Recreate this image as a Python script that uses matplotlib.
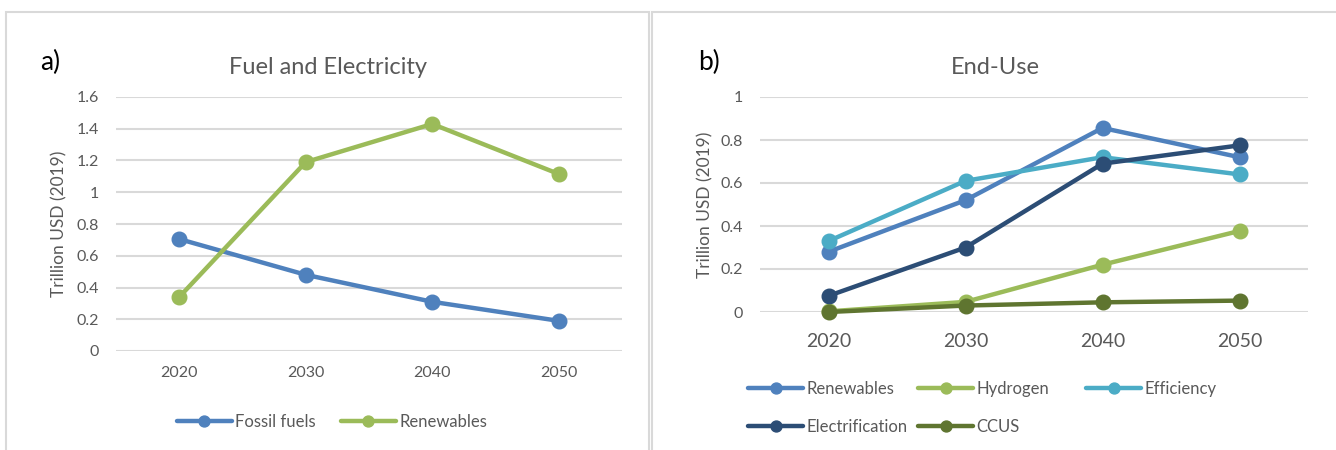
import numpy as np
import matplotlib
matplotlib.use("Agg")
from matplotlib import pyplot as plt
from matplotlib.patches import Rectangle
from matplotlib.ticker import FuncFormatter

plt.rcParams['font.family'] = ['Lato', 'DejaVu Sans']

# data
years = ['2020', '2030', '2040', '2050']

fossil_fuels = [0.705, 0.48, 0.31, 0.19]
renewables_fe = [0.34, 1.19, 1.43, 1.115]

renewables_eu = [0.28, 0.52, 0.856, 0.72]
hydrogen = [0.003, 0.047, 0.22, 0.377]
efficiency = [0.33, 0.61, 0.72, 0.64]
electrification = [0.075, 0.30, 0.69, 0.775]
ccus = [0.0, 0.03, 0.045, 0.053]

# colors (excel palette)
cBlue = '#4F81BD'
cGreen = '#9BBB59'
cCyan = '#4BACC6'
cNavy = '#2C4D75'
cOlive = '#5F7530'
txt = '#595959'
grid = '#D9D9D9'

W, H = 1336., 450.
fig = plt.figure(figsize=(13.36, 4.5), dpi=100)

# panel frames
fig.patches.append(Rectangle((6/W, -0.1), (649-6)/W, 1.1-12/H, transform=fig.transFigure,
                             fill=False, edgecolor=grid, lw=1.5))
fig.patches.append(Rectangle((652/W, -0.1), 0.6, 1.1-12/H, transform=fig.transFigure,
                             fill=False, edgecolor=grid, lw=1.5))

fmt = FuncFormatter(lambda v, p: ('%g' % round(v, 2)))


def style(ax, top, step, xsize, xpad):
    x = np.arange(len(years))
    ax.set_xlim(-0.5, len(years) - 0.5)
    ax.set_ylim(0, top)
    ax.set_yticks(np.arange(0, top + step / 2, step))
    ax.yaxis.set_major_formatter(fmt)
    ax.set_xticks(x)
    ax.set_xticklabels(years)
    for s in ax.spines.values():
        s.set_visible(False)
    ax.grid(axis='y', color=grid, lw=1.5)
    ax.set_axisbelow(True)
    ax.tick_params(axis='both', length=0, colors=txt, labelsize=11.5)
    ax.tick_params(axis='x', pad=xpad, labelsize=xsize)
    ax.tick_params(axis='y', pad=12)
    ax.set_ylabel('Trillion USD (2019)', color=txt, fontsize=12.5)


def line(ax, vals, color, label):
    x = np.arange(len(vals))
    ax.plot(x, vals, color=color, lw=3.2, marker='o', markersize=10.5,
            label=label, solid_capstyle='round', clip_on=False)


def leg(handles, labels, x, y):
    # one legend column, placed where excel puts it
    return fig.legend(handles, labels, loc='upper left', bbox_to_anchor=(x/W, 1-y/H),
                      bbox_transform=fig.transFigure, frameon=False, fontsize=12,
                      handlelength=3.3, handletextpad=0.2, labelspacing=1.3,
                      labelcolor=txt, markerscale=0.75, borderpad=0, borderaxespad=0)


# a) Fuel and Electricity
axA = fig.add_axes([116/W, 1-351/H, (622-116)/W, (351-97)/H])
style(axA, 1.6, 0.2, 11.5, 11)
line(axA, fossil_fuels, cBlue, 'Fossil fuels')
line(axA, renewables_fe, cGreen, 'Renewables')
axA.yaxis.set_label_coords(-0.095, 0.5)
fig.text(328/W, 1-67/H, 'Fuel and Electricity', color=txt, fontsize=17, ha='center', va='center')
fig.text(40/W, 1-62/H, 'a)', fontsize=19, va='center', color='black')
axA.legend(loc='center', bbox_to_anchor=(332/W, 1-422/H), bbox_transform=fig.transFigure,
           ncol=2, frameon=False, fontsize=12, handlelength=3.3, columnspacing=1.5,
           handletextpad=0.2, labelcolor=txt, markerscale=0.75)

# b) End-Use
axB = fig.add_axes([760/W, 1-312/H, (1308-760)/W, (312-97)/H])
style(axB, 1.0, 0.2, 14, 15)
line(axB, renewables_eu, cBlue, 'Renewables')
line(axB, hydrogen, cGreen, 'Hydrogen')
line(axB, efficiency, cCyan, 'Efficiency')
line(axB, electrification, cNavy, 'Electrification')
line(axB, ccus, cOlive, 'CCUS')
axB.yaxis.set_label_coords(-0.085, 0.5)
fig.text(995/W, 1-68/H, 'End-Use', color=txt, fontsize=17, ha='center', va='center')
fig.text(698/W, 1-62/H, 'b)', fontsize=19, va='center', color='black')
h, l = axB.get_legend_handles_labels()
leg([h[0], h[3]], [l[0], l[3]], 748, 381)
leg([h[1], h[4]], [l[1], l[4]], 918, 381)
leg([h[2]], [l[2]], 1086, 381)

plt.savefig('out.png', dpi=100)
